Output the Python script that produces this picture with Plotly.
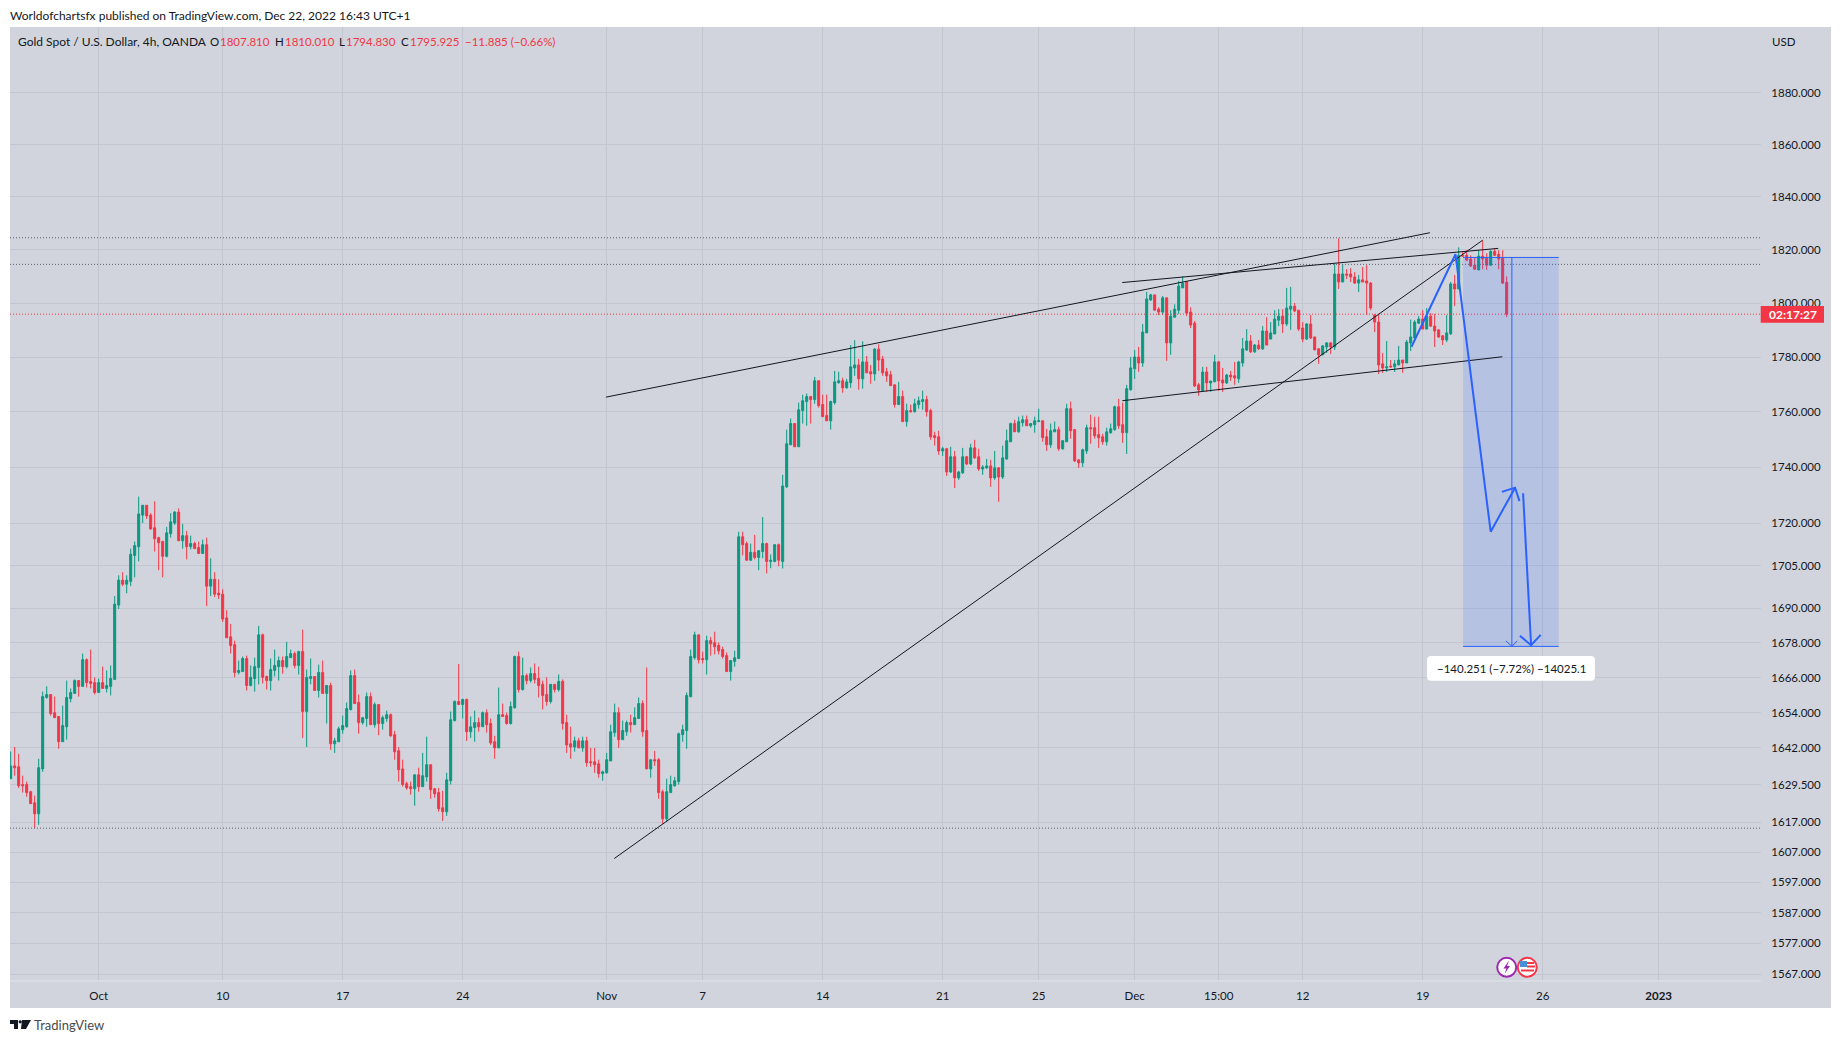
import numpy as np
import plotly.graph_objs as go

# 4h candles
opens = [
    1631.6,1635.9,1635.6,1629.6,1629.6,1627.2,1623.5,1619.8,1634.9,1659.2,
    1660.2,1654,1652.7,1644.1,1649.2,1658.8,1660.6,1665,1663,1672.2,
    1664.7,1664.3,1660.9,1664.3,1662.3,1663,1665.4,1691.2,1699.9,1698.5,
    1699.5,1708.6,1711.7,1722.9,1726.4,1722.9,1718.4,1714.9,1713.5,1708.3,
    1716.3,1720.1,1724,1713.8,1715.6,1711.7,1712.8,1711.4,1709.3,1712.4,
    1697.8,1700.2,1695.3,1695,1686.7,1680.1,1677.4,1667.8,1668.1,1672.6,
    1663.3,1665.7,1669.5,1680.8,1666.4,1665,1668.5,1669.8,1671.9,1669.8,
    1672.9,1674.3,1670.2,1675,1654.4,1665.7,1666.4,1661.6,1667.8,1660.6,
    1663.3,1643.4,1644.1,1648.2,1649.2,1655.1,1666.7,1657.5,1650.6,1652,
    1659.5,1649.9,1656.8,1650.3,1652,1653.3,1646.5,1641,1634.9,1629.9,
    1628.9,1628.2,1632.9,1628.9,1632.2,1636.3,1628.2,1626.9,1621.8,1620.5,
    1630.9,1651.3,1657.8,
    1656.8,1658.5,1647.5,1648.9,1650.6,1649.2,1654,1650.3,1644.1,1642,
    1653.3,1653,1650.3,1655.7,1673.3,1661.9,1666.7,1665,1667.4,1665.7,
    1663.7,1660.2,1657.8,1663.7,1661.9,1664.7,1650.6,1643.4,1642.3,1644.4,
    1642,1644.4,1637.3,1637.3,1636.6,1633.3,1633.6,1637.6,1647.2,1654,
    1644.8,1647.5,1650.6,1649.9,1652,1657.1,1647.9,1634.9,1638,1638,
    1627.2,1618.1,1626.9,1629.2,1630.6,1646.5,1647.9,1659.5,1672.9,1680.8,
    1672.6,1672.2,1678.8,1678.1,1677.1,1675.7,1673.6,1668.1,1671.6,1672.6,
    1715.2,1712.8,1706.9,1709.7,1707.9,1710,1712.8,1706.5,1706.5,1712.4,
    1706.5,1733,1748.1,1755.8,1747.4,1760.5,1763.8,1765.6,1764.5,1771.4,
    1762.7,1758.7,1756.8,1763.4,1770.7,1771.4,1768.8,1770.7,1776.1,1777.2,
    1772.1,1778.3,1774.7,1773.9,1783,1779.4,1774.7,1773.6,1769.9,1762.7,
    1765.6,1756.5,1760.5,1760.1,1762.7,1763.8,1764.5,1760.5,1751.4,1751,
    1745.9,1746.7,1738.3,1743.8,1736.2,1738,1743.8,1741.2,1747,1743.8,
    1739.4,1739.8,1740.5,1736.2,1739.8,1736.5,1743,1749.2,1755.8,1752.8,
    1756.1,1757.2,1755,1755.4,1756.5,1756.8,1751,1748.1,1752.8,1753.6,
    1746.7,1749.2,1761.2,1753.6,1742.7,1741.6,1745.9,1754.3,1754.3,1751.8,
    1751,1749.2,1752.5,1753.6,1761.9,1755.4,1752.5,1768.1,1775.8,1780.1,
    1777.9,1789,1801.2,1803.1,1797.8,1796.7,1802,1785.3,1794.8,1797.4,
    1805.7,1807.9,1796.7,1792.6,1769.9,1767.7,1774.6,1770.6,1771,1778.3,
    1771.7,1770.6,1773.5,1773.2,1772.1,1777.9,1782.7,1786,1782,1784.5,
    1783.1,1789.7,1786.7,1788.6,1793.7,1795.2,1792.3,1797.8,1798.9,1797.4,
    1790.8,1786.7,1792.3,1787.5,1783.1,1780.9,1783.8,1785.3,1783.8,1810.9,
    1807.9,1810.9,1810.9,1809.8,1807.5,1808.7,1808.3,1807.5,1795.6,1793,
    1777.6,1776.1,1776.8,1776.5,1777.2,1779,1777.9,1785.3,1787.1,1792.6,
    1794.1,1790.4,1795.2,1791.5,1790.1,1787.9,1786.4,1788.7,1807.2,1805.3,
    1817.9,1817.9,1816.5,1814.2,1812.4,1817.6,1816.8,1814.2,1819.4,1818.3,
    1816.8,1807.81,
]
highs = [
    1640.8,1642.3,1640,1632.6,1630.6,1627.5,1625.9,1638.3,1661.2,1663,
    1660.2,1659.5,1652.7,1656.4,1665,1662.3,1665.4,1665,1674.3,1672.6,
    1675.7,1666.1,1665.7,1669.8,1668.5,1670.2,1694.3,1701.6,1702.7,1701.6,
    1711,1713.5,1729.5,1726.4,1726.4,1723.6,1727.8,1715.2,1713.8,1718.7,
    1723.6,1724.3,1725.3,1719.8,1717.3,1715.6,1713.5,1713.5,1714.2,1714.9,
    1707.6,1702.7,1700.2,1696.7,1689.4,1684.6,1678.8,1671.9,1673.3,1673.6,
    1670.2,1672.9,1683.9,1681.2,1666.7,1672.6,1675.7,1673.3,1673.3,1678.4,
    1675.7,1675,1675.3,1682.6,1668.8,1672.6,1666.4,1670.5,1671.9,1663.3,
    1664.3,1645.4,1649.2,1653,1657.5,1668.5,1668.8,1660.2,1652.3,1660.9,
    1660.9,1657.5,1656.8,1653,1654.7,1653.7,1647.8,1642.3,1638,1630.6,
    1630.6,1632.9,1635.3,1640.3,1645.8,1636.3,1628.5,1628.5,1627.5,1633.6,
    1654.4,1658.2,1670.7,
    1658.8,1658.8,1652.7,1654.7,1652.3,1654.4,1655.1,1652,1646.1,1662.6,
    1657.1,1654,1657.8,1673.6,1675,1672.9,1667.4,1669.5,1670.9,1669.8,
    1665,1666.1,1663.7,1663.7,1667.1,1665.4,1653.3,1649.2,1645.8,1645.4,
    1645.8,1645.8,1642,1642,1638,1634.3,1640.3,1649.9,1657.1,1655.8,
    1651.3,1651.3,1653.3,1655.8,1659.2,1658.2,1669.5,1638,1641,1638.6,
    1627.9,1631.6,1632.6,1632.2,1647.2,1649.9,1660.9,1675.7,1681.9,1680.8,
    1675,1680.5,1680.1,1681.9,1678.1,1676.7,1674.7,1671.9,1675.3,1717,
    1717,1713.5,1712.8,1715.9,1710.3,1722.2,1713.1,1709,1712.4,1712.8,
    1737.3,1753.6,1757.6,1755.8,1763.4,1766.3,1766.7,1765.9,1772.8,1771.4,
    1766.3,1766.3,1764.1,1775,1774.7,1772.5,1772.1,1784.5,1786.3,1779.4,
    1785.9,1780.5,1777.2,1783.4,1784.8,1780.5,1776.1,1775,1769.9,1771,
    1767.8,1763,1762.7,1764.8,1765.6,1767.8,1765.9,1761.2,1752.8,1753.2,
    1747.4,1747,1747.4,1745.9,1738.7,1747,1744.1,1748.5,1749.9,1746.7,
    1740.8,1743,1742.7,1745.9,1740.1,1747.8,1753.6,1756.1,1757.2,1758.3,
    1758.7,1758.7,1755.8,1758.3,1761.2,1756.8,1753.9,1755.8,1756.5,1754.7,
    1749.6,1763,1763.8,1753.6,1742.7,1746.7,1755.4,1759,1758.3,1758.3,
    1752.1,1754.3,1755.8,1762.3,1764.8,1763.4,1769.9,1780.1,1782.7,1783.8,
    1792.3,1804.2,1803.5,1803.1,1798.5,1802.7,1802,1797.4,1799.6,1808.3,
    1810.1,1807.9,1798.5,1793.4,1770.6,1776.5,1776.5,1771.3,1780.9,1778.7,
    1776.1,1773.9,1775,1778.3,1778.7,1787.1,1790.4,1788.2,1784.9,1786.4,
    1791.5,1794.8,1793,1797.4,1797.8,1797.8,1805.7,1806.1,1800.1,1797.4,
    1793,1792.6,1795.6,1787.5,1783.4,1784.5,1785.6,1785.6,1814.6,1824.3,
    1814.6,1812.7,1813.1,1811.6,1810.5,1813.5,1814.2,1807.9,1796,1796,
    1781.6,1786,1779,1779,1784.2,1779,1786.4,1793.9,1793.7,1795.2,
    1797.4,1798.2,1796.3,1796,1790.4,1788.2,1795.6,1807.9,1810.5,1820.9,
    1819.1,1819.8,1817.9,1817.2,1819.8,1823.5,1818.7,1819.8,1820.5,1819.8,
    1819.8,1810.01,
]
lows = [
    1631.6,1632.6,1628.5,1626.9,1625.5,1623.2,1615,1616.1,1633.9,1658.8,
    1653,1652.3,1641.7,1644.1,1644.8,1657.5,1660.6,1659.5,1663,1662.6,
    1662.3,1660.2,1660.9,1662.3,1660.9,1659.9,1665.4,1689.8,1697.8,1695.3,
    1697.8,1700.9,1706.5,1720.1,1721.5,1717.7,1710,1703.4,1700.9,1707.9,
    1714.9,1719.4,1713.8,1711,1707.2,1710.7,1711,1709.3,1709.3,1690.8,
    1694.3,1694,1693.3,1685.3,1679.8,1674.3,1666.1,1667.1,1668.1,1661.6,
    1663,1661.2,1663.7,1664,1661.9,1661.6,1666.4,1665,1667.4,1669.2,
    1672.9,1669.2,1667.1,1645.4,1642.3,1663.7,1661.6,1659.2,1660.6,1650.3,
    1641.3,1640.3,1644.1,1646.8,1648.9,1654.7,1657.1,1646.8,1649.9,1649.2,
    1649.9,1648.9,1646.3,1648.2,1650.9,1645.8,1638,1630.6,1628.9,1627.9,
    1626.2,1622.5,1627.2,1628.9,1630.6,1624.8,1625.2,1620.5,1617.4,1619.1,
    1629.6,1651,1656.8,
    1652,1644.4,1645.4,1644.1,1647.5,1649.2,1647.2,1643,1638.3,1642,
    1652.7,1649.9,1649.9,1655.4,1660.9,1661.6,1663.7,1664.3,1664,1659.2,
    1655.1,1656.4,1657.1,1660.9,1661.2,1648.2,1640.3,1638.3,1640.7,1642,
    1640.7,1635.6,1635.6,1633.6,1631.9,1630.9,1633.3,1637.6,1645.8,1642,
    1644.8,1646.1,1647.2,1649.9,1652,1645.8,1634.9,1631.9,1635.9,1624.8,
    1616.5,1617.1,1626.9,1628.9,1629.6,1644.1,1641.7,1659.2,1672.2,1670.9,
    1670.9,1667.1,1673.6,1674,1674,1672.6,1668.1,1665,1669.8,1672.6,
    1708.6,1706.9,1706.9,1707.2,1703.4,1707.6,1702.3,1704.1,1706.2,1704.8,
    1704,1732.6,1748.1,1747.4,1747.4,1755.8,1755,1755.8,1763,1761.6,
    1758.3,1756.8,1753.6,1762.7,1770.3,1767,1768.5,1768.8,1773.2,1768.1,
    1768.5,1774.3,1770.3,1771.4,1775,1773.2,1771,1769.6,1761.6,1762.7,
    1756.5,1754.7,1759.8,1759.8,1761.2,1760.8,1758.3,1749.9,1747.8,1744.5,
    1744.1,1736.9,1738,1732.6,1735.5,1737.6,1740.8,1740.8,1743,1738.7,
    1737.3,1739.4,1733,1735.5,1727.6,1735.8,1742.7,1749.2,1752.8,1752.5,
    1754.7,1755,1754.3,1752.5,1756.5,1749.2,1745.9,1747,1752.8,1745.9,
    1746.3,1749.2,1750.3,1741.9,1739.8,1740.1,1744.8,1748.5,1750.3,1747,
    1748.1,1747.8,1752.1,1753.2,1753.9,1748.8,1744.8,1767.8,1772.1,1774.7,
    1776.5,1789,1800.9,1797.4,1795.6,1795.6,1778.7,1780.9,1794.8,1796,
    1805.7,1795.2,1790.8,1769.1,1765.9,1767.3,1767.3,1767.3,1771,1767.7,
    1767.3,1770.2,1771.3,1769.9,1770.6,1776.5,1782.3,1781.6,1781.6,1782.7,
    1782.7,1784.5,1786.7,1788.6,1791.5,1789,1791.5,1790.1,1796.7,1789.7,
    1785.6,1786.4,1786.7,1782.7,1777.6,1780.9,1781.6,1781.2,1782.7,1805.3,
    1807.9,1809,1807.9,1807.2,1804.2,1807.9,1795.6,1797.4,1789.3,1773.9,
    1774.3,1774.6,1776.1,1774.6,1777.2,1774.3,1777.9,1782.3,1787.1,1792.3,
    1790.4,1790.4,1791.2,1783.8,1787.1,1784.5,1785.6,1788.2,1799,1805.3,
    1817.6,1815.7,1813.5,1812.4,1812.4,1812.7,1812.4,1813.9,1817.6,1812.7,
    1807.2,1794.83,
]
closes = [
    1635.9,1635.3,1629.2,1629.2,1626.9,1623.2,1619.8,1635.3,1659.5,1660.2,
    1653.7,1652.3,1644.1,1649.6,1659.2,1660.9,1665,1663,1672.2,1664.3,
    1664,1660.9,1664.3,1662.3,1663.3,1665.7,1691.5,1699.9,1698.5,1699.9,
    1709,1712.1,1723.3,1726.4,1722.6,1718,1714.5,1713.1,1708.3,1716.6,
    1720.5,1724,1713.8,1715.6,1711.7,1712.8,1711,1709.3,1712.4,1697.8,
    1700.2,1695,1694.7,1686.3,1679.8,1677.1,1667.8,1668.5,1672.6,1663.3,
    1666.1,1669.8,1680.8,1666.1,1665,1668.8,1670.2,1671.9,1669.8,1673.3,
    1674.3,1670.2,1675,1654.4,1666.1,1666.4,1661.6,1667.8,1660.6,1663.3,
    1643.4,1644.4,1648.5,1649.6,1655.4,1666.7,1657.1,1650.6,1652.3,1659.5,
    1649.9,1656.8,1650.3,1652.3,1653.3,1646.1,1640.7,1634.6,1629.6,1628.5,
    1628.2,1632.9,1628.9,1632.6,1636.3,1627.9,1626.5,1621.5,1620.5,1631.2,
    1651.6,1657.8,1656.8,
    1658.5,1647.5,1649.2,1650.6,1649.2,1654,1649.9,1643.7,1642,1653.3,
    1652.7,1650.3,1656.1,1673.3,1661.9,1666.7,1665,1667.4,1665.4,1663.3,
    1659.9,1657.8,1663.7,1661.9,1664.7,1650.3,1643,1642.3,1644.4,1642,
    1644.4,1637,1637,1636.3,1633.3,1633.9,1638,1647.5,1654,1644.8,
    1647.9,1650.6,1649.9,1652.3,1657.1,1647.5,1634.9,1638,1637.6,1626.9,
    1618.1,1627.2,1629.6,1630.9,1646.8,1648.2,1659.9,1673.3,1680.8,1672.2,
    1672.2,1678.8,1677.7,1676.7,1675.3,1673.3,1668.1,1671.9,1672.9,1715.2,
    1712.4,1706.9,1709.7,1707.9,1710.3,1712.8,1706.5,1706.9,1712.4,1706.9,
    1733.3,1748.5,1755.8,1747.4,1760.8,1764.1,1765.6,1764.5,1771.4,1762.3,
    1758.3,1756.8,1763.8,1771,1771.4,1768.8,1771,1776.5,1777.2,1772.1,
    1778.3,1774.3,1773.9,1783,1779,1774.3,1773.2,1769.6,1762.7,1765.6,
    1756.5,1760.5,1760.1,1763,1764.1,1764.5,1760.1,1751,1750.7,1745.9,
    1746.7,1738.3,1743.8,1736.2,1738.3,1743.8,1741.2,1747,1743.4,1739.4,
    1740.1,1740.5,1736.2,1739.8,1736.5,1743.4,1749.6,1755.8,1752.8,1756.5,
    1757.2,1755,1755.8,1756.8,1756.8,1750.7,1748.1,1753.2,1753.6,1746.7,
    1749.6,1761.2,1753.2,1742.3,1741.6,1746.3,1754.3,1753.9,1751.4,1750.7,
    1749.2,1752.8,1753.9,1761.9,1755,1752.5,1768.5,1776.1,1780.1,1777.9,
    1789.3,1801.6,1803.1,1797.4,1796.7,1802,1785.3,1795.2,1797.8,1806.4,
    1807.4,1796.3,1791.9,1769.5,1768,1774.6,1770.6,1771.3,1778.3,1771.3,
    1770.6,1773.5,1772.8,1772.4,1778.3,1783.1,1786,1782,1784.5,1783.1,
    1789.7,1784.5,1789,1794.1,1795.2,1792.3,1798.2,1798.9,1797.1,1790.4,
    1786.7,1792.3,1787.1,1782.7,1780.9,1784.2,1785.3,1783.8,1810.9,1807.9,
    1810.9,1810.5,1809.8,1807.5,1808.7,1807.9,1807.5,1798.2,1793,1777.2,
    1776.1,1776.5,1776.5,1777.6,1779,1777.9,1785.6,1787.5,1793,1794.1,
    1790.4,1795.2,1791.5,1789.7,1787.5,1786.4,1789,1807.2,1805.3,1817.9,
    1817.6,1816.1,1813.9,1812.7,1817.6,1816.5,1814.2,1819.4,1817.9,1816.5,
    1807.5,1795.925,
]
bars = list(range(len(opens)))

# time axis, labels sit on bar numbers because weekends are squeezed out
time_ticks = [22, 53, 83, 113, 149, 173, 203, 233, 257, 281, 302, 323, 353, 383, 412]
time_labels = ['Oct', '10', '17', '24', 'Nov', '7', '14', '21', '25', 'Dec', '15:00', '12', '19', '26', '<b>2023</b>']

price_ticks = [1880, 1860, 1840, 1820, 1800, 1780, 1760, 1740, 1720, 1705, 1690, 1678, 1666, 1654,
               1642, 1629.5, 1617, 1607, 1597, 1587, 1577, 1567]
price_labels = ['%.3f' % p for p in price_ticks]

# drawings on the chart
upper_x, upper_y = [148.8, 354.8], [1765.4, 1826.4]
channel_top_x, channel_top_y = [277.9, 371.9], [1807.7, 1820.5]
channel_low_x, channel_low_y = [277.9, 372.9], [1764.1, 1780.2]
support_x, support_y = [150.9, 368], [1604.9, 1823.6]
levels = [1824.5, 1814.5, 1615]

short_x, short_top, short_bottom = [363.1, 387], 1817.1, 1676.8
measure_x = 375.3

wave_x = [350.2, 361.2, 370, 376.1]
wave_y = [1783.9, 1818.3, 1717, 1732.7]
wave_head_x = [372.8, 376.1, 377.2]
wave_head_y = [1731.2, 1732.7, 1727.9]
drop_x = [378.1, 380.1]
drop_y = [1730.7, 1677.2]
drop_head_x = [377.3, 380.1, 382.5]
drop_head_y = [1680.5, 1677.2, 1680.8]
measure_head_x = [373.8, 375.3, 376.6]
measure_head_y = [1678.7, 1676.8, 1678.7]

RED = '#f23645'
GREEN = '#089981'
BLUE = '#2962ff'
PANE = '#d1d4dc'
GRID = '#c3c6d0'
INK = '#131722'
FONT = 'Lato'

x_range = [-0.17, 437.58]
y_range = [np.log10(1564.8), np.log10(1905.7)]

# page pixels to paper fractions of the pane
def px(x):
    return (x - 10) / 1751.0

def py(y):
    return (981 - y) / 954.0


def line_trace(x, y, color, width=1, dash='solid'):
    return go.Scatter(x=x, y=y, mode='lines', line=dict(color=color, width=width, dash=dash),
                      hoverinfo='skip', showlegend=False)


data = [go.Candlestick(
    x=bars, open=opens, high=highs, low=lows, close=closes,
    increasing=dict(line=dict(color=GREEN, width=1), fillcolor=GREEN),
    decreasing=dict(line=dict(color=RED, width=1), fillcolor=RED),
    whiskerwidth=0, showlegend=False
)]
for lvl in levels:
    data.append(line_trace(x_range, [lvl, lvl], '#5d606b', 1, '1px,2px'))
data.append(line_trace(x_range, [closes[-1], closes[-1]], RED, 1, '1px,2px'))
data.append(go.Scatter(
    x=[short_x[0], short_x[1], short_x[1], short_x[0], short_x[0]],
    y=[short_top, short_top, short_bottom, short_bottom, short_top],
    mode='lines', line=dict(width=0), fill='toself', fillcolor='rgba(41,98,255,0.16)',
    hoverinfo='skip', showlegend=False
))
data.append(line_trace(short_x, [short_top, short_top], BLUE, 1))
data.append(line_trace(short_x, [short_bottom, short_bottom], BLUE, 1))
data.append(line_trace([measure_x, measure_x], [short_top, short_bottom], BLUE, 1))
data.append(line_trace(measure_head_x, measure_head_y, BLUE, 1))
data.append(line_trace(upper_x, upper_y, INK, 1))
data.append(line_trace(channel_top_x, channel_top_y, INK, 1))
data.append(line_trace(channel_low_x, channel_low_y, INK, 1))
data.append(line_trace(support_x, support_y, INK, 1))
data.append(line_trace(wave_x, wave_y, BLUE, 2))
data.append(line_trace(wave_head_x, wave_head_y, BLUE, 2))
data.append(line_trace(drop_x, drop_y, BLUE, 2))
data.append(line_trace(drop_head_x, drop_head_y, BLUE, 2))


def label(x, y, text, color=INK, size=12, anchor='left'):
    return dict(x=px(x), y=py(y), xref='paper', yref='paper', text=text, showarrow=False,
                xanchor=anchor, yanchor='middle', font=dict(family=FONT, size=size, color=color))


annotations = [
    label(8, 15, 'Worldofchartsfx published on TradingView.com, Dec 22, 2022 16:43 UTC+1'),
    label(16, 41.5, 'Gold Spot / U.S. Dollar, 4h, OANDA'),
    label(208, 41.5, 'O', INK, 11.5), label(218, 41.5, '1807.810', RED, 11.5),
    label(273, 41.5, 'H', INK, 11.5), label(283, 41.5, '1810.010', RED, 11.5),
    label(337, 41.5, 'L', INK, 11.5), label(344, 41.5, '1794.830', RED, 11.5),
    label(399, 41.5, 'C', INK, 11.5), label(408, 41.5, '1795.925', RED, 11.5),
    label(463, 41.5, '\u221211.885 (\u22120.66%)', RED, 11.5),
    label(1769.5, 41, 'USD', INK, 11.5),
    label(1792.5, 314.5, '<b>02:17:27</b>', 'white', 12, 'center'),
    label(1511, 668.5, '\u2212140.251 (\u22127.72%) \u221214025.1', INK, 11.5, 'center'),
    label(32, 1025.5, 'TradingView', '#4a4a4a', 13),
]


def rect(x0, y0, x1, y1, color, layer='above'):
    return dict(type='rect', xref='paper', yref='paper', x0=px(x0), y0=py(y0), x1=px(x1), y1=py(y1),
                fillcolor=color, line=dict(width=0), layer=layer)


def circle(cx, cy, r, fill, edge, width=2):
    return dict(type='circle', xref='paper', yref='paper', x0=px(cx - r), x1=px(cx + r),
                y0=py(cy + r), y1=py(cy - r), fillcolor=fill, line=dict(color=edge, width=width), layer='above')


def poly(points, fill):
    d = 'M ' + ' L '.join('%.5f,%.5f' % (px(a), py(b)) for a, b in points) + ' Z'
    return dict(type='path', xref='paper', yref='paper', path=d, fillcolor=fill, line=dict(width=0), layer='above')


def round_box(x0, y0, x1, y1, r, fill):
    d = ('M %.5f,%.5f L %.5f,%.5f Q %.5f,%.5f %.5f,%.5f L %.5f,%.5f Q %.5f,%.5f %.5f,%.5f '
         'L %.5f,%.5f Q %.5f,%.5f %.5f,%.5f L %.5f,%.5f Q %.5f,%.5f %.5f,%.5f Z') % (
        px(x0 + r), py(y0), px(x1 - r), py(y0), px(x1), py(y0), px(x1), py(y0 + r),
        px(x1), py(y1 - r), px(x1), py(y1), px(x1 - r), py(y1),
        px(x0 + r), py(y1), px(x0), py(y1), px(x0), py(y1 - r),
        px(x0), py(y0 + r), px(x0), py(y0), px(x0 + r), py(y0))
    return dict(type='path', xref='paper', yref='paper', path=d, fillcolor=fill, line=dict(width=0), layer='above')


shapes = [
    rect(10, 27, 1831, 1008, PANE, 'below'),
    rect(10, 980.5, 1761, 981.5, '#e0e3eb'),
    rect(1760.7, 306, 1824, 322.7, RED),
    round_box(1427, 656, 1595, 680.7, 4, 'white'),
    # event badges
    circle(1506.7, 967.3, 9.5, 'white', '#9c27b0'),
    poly([(1509, 960.5), (1503.5, 968.5), (1506.5, 968.5), (1504.5, 974), (1510, 966), (1507, 966)], '#9c27b0'),
    circle(1527.3, 967.3, 9.5, 'white', RED),
    rect(1520, 961, 1527, 967, '#4a90d9'),
    rect(1527, 962, 1534, 964, RED),
    rect(1527, 965.5, 1535, 967.5, RED),
    rect(1521, 969.5, 1534, 971.5, RED),
    # TradingView mark
    poly([(10, 1020), (18, 1020), (18, 1029), (14, 1029), (14, 1024), (10, 1024)], '#131722'),
    poly([(22, 1020), (31, 1020), (26, 1029), (21, 1029)], '#131722'),
    circle(20.2, 1021.8, 1.6, '#131722', '#131722', 0),
]

layout = go.Layout(
    width=1825, height=1027,
    margin=dict(l=2, r=72, t=19, b=54, pad=0),
    paper_bgcolor='white', plot_bgcolor=PANE,
    font=dict(family=FONT, size=12, color=INK),
    showlegend=False, boxgap=0.5, boxgroupgap=0,
    xaxis=dict(range=x_range, tickmode='array', tickvals=time_ticks, ticktext=time_labels,
               showgrid=True, gridcolor=GRID, gridwidth=1, zeroline=False, showline=False,
               ticks='outside', ticklen=4, tickcolor=PANE, rangeslider=dict(visible=False),
               tickfont=dict(size=11.5)),
    yaxis=dict(type='log', range=y_range, side='right', tickmode='array', tickvals=price_ticks,
               ticktext=price_labels, showgrid=True, gridcolor=GRID, gridwidth=1, zeroline=False,
               showline=False, ticks='outside', ticklen=7, tickcolor=PANE, tickfont=dict(size=11.5)),
    annotations=annotations, shapes=shapes
)

fig = go.Figure(data=data, layout=layout)
fig.write_html("out.html")
